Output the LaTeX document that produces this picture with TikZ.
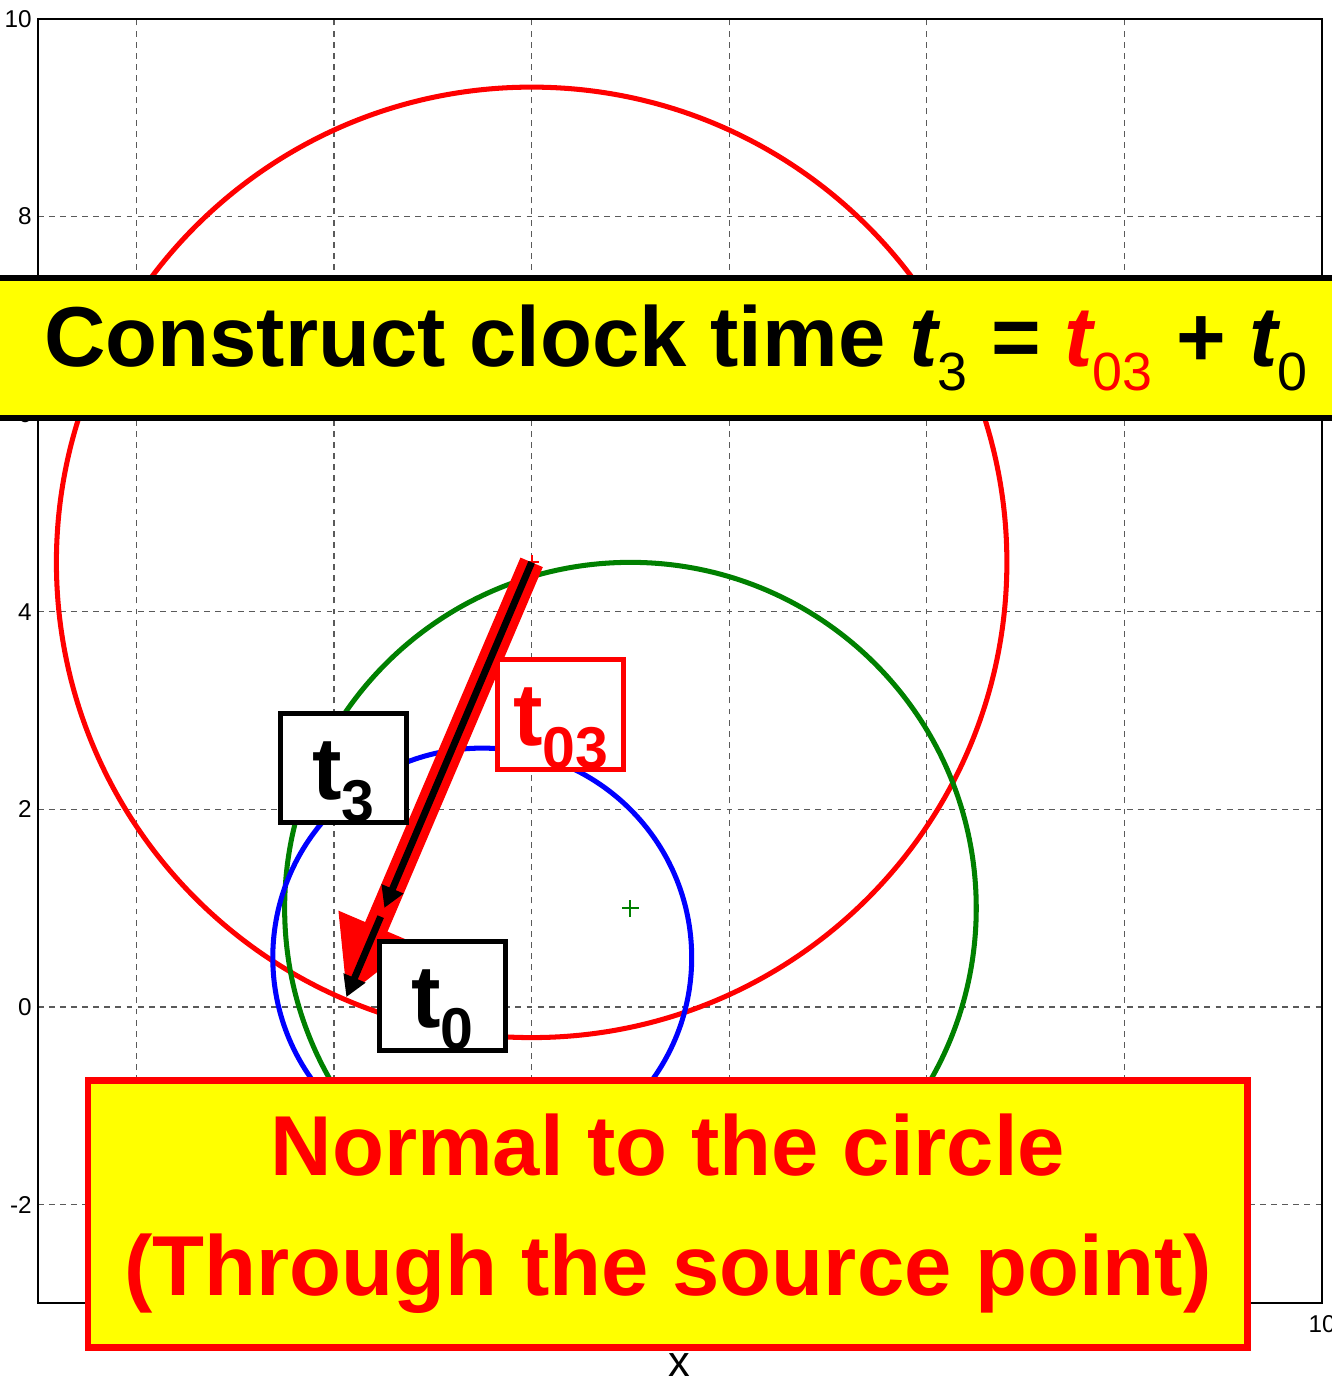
\documentclass[tikz,border=0pt]{standalone}
\usepackage{fontspec}
\setmainfont{Liberation Sans}
\usepackage{tikz}
\usepackage{xcolor}
\usetikzlibrary{arrows.meta, calc}
\definecolor{cRed}{RGB}{255,0,0}
\definecolor{cGreen}{RGB}{0,128,0}
\definecolor{cBlue}{RGB}{0,0,255}
\definecolor{cYellow}{RGB}{255,255,0}
\definecolor{cGrid}{RGB}{90,90,90}
\newcommand{\clkT}[1]{{\itshape t}\raisebox{-7pt}{\fontsize{15.5}{15.5}\selectfont\mdseries #1}}
\newcommand{\clkB}[1]{t\raisebox{-6.5pt}{\fontsize{17}{17}\selectfont #1}}
\tikzset{
	gridline/.style ={cGrid, dash pattern=on 1.7pt off 1.5pt, line width=0.35pt},
	ticklbl/.style  ={font=\fontsize{7}{7}\selectfont, inner sep=1.5pt},
	curve/.style    ={line width=1.45pt},
	ctrplus/.style  ={line width=0.6pt},
	% labels and notes
	lblbox/.style   ={rectangle, draw=black, line width=1.45pt, fill=white, minimum width=1.27cm, minimum height=1.11cm, inner sep=0pt, text height=18pt, text depth=0pt, font=\fontsize{25.5}{25.5}\selectfont\bfseries},
	banner/.style   ={rectangle, draw=black, line width=1.7pt, fill=cYellow, minimum width=16cm, minimum height=1.42cm, inner sep=0pt, font=\fontsize{24.5}{24.5}\selectfont\bfseries},
	notebox/.style  ={rectangle, draw=cRed, line width=2pt, fill=cYellow, text=cRed, minimum width=11.74cm, minimum height=2.71cm, align=center, inner sep=0pt, font=\fontsize{24.5}{34.5}\selectfont\bfseries},
	% normal vectors
	redarrow/.style ={cRed, line width=7pt, -{Triangle[length=22pt,width=22pt]}},
	blkarrow/.style ={black, line width=2pt, -{Triangle[length=6pt,width=6.5pt]}},
}

\begin{document}
\begin{tikzpicture}[x=1cm, y=1cm]
	\useasboundingbox (-3.381,-3.806) rectangle (10.091,10.192);
	\foreach \g in {-2,0,...,8} {
		\draw[gridline] (\g,-3) -- (\g,10);
		\draw[gridline] (-3,\g) -- (10,\g);
	}
	\draw[line width=0.6pt] (-3,-3) rectangle (10,10);
	\foreach \v in {-2,0,...,10}
		\node[ticklbl, anchor=east] (ytick\v) at (-3,\v) {\v};
	\node[ticklbl, anchor=north] (xtick10) at (10,-3.06) {10};
	\node[font=\fontsize{12.5}{12.5}\selectfont] (xlbl) at (3.49,-3.62) {x};

	\draw[curve, cRed] (2,4.5) circle (4.81);
	\draw[curve, cGreen] (3,1) circle (3.5);
	\draw[curve, cBlue] (1.5,0.5) circle (2.12);
	\draw[ctrplus, cGreen] (3,1) +(-0.085,0) -- +(0.085,0) +(0,-0.085) -- +(0,0.085);
	\draw[ctrplus, cRed] (2,4.5) +(-0.07,0) -- +(0.07,0) +(0,-0.07) -- +(0,0.07);

	\coordinate (src) at (2,4.5);
	\coordinate (tip) at (0.125,0.10);
	\draw[redarrow] (src) -- (tip);
	\draw[blkarrow] (src) -- ($(src)!0.795!(tip)$);
	\draw[blkarrow] ($(src)!0.815!(tip)$) -- (tip);

	\node[lblbox] (tthree) at (0.096,2.419) {\clkB{3}};
	\node[lblbox, draw=cRed, text=cRed] (tzerothree) at (2.293,2.960) {\clkB{03}};
	\node[lblbox] (tzero) at (1.098,0.111) {\clkB{0}};

	\node[banner] (title) at (3.46,6.67) {Construct clock time \clkT{3} = {\color{cRed}\clkT{03}} + \clkT{0}};
	\node[notebox] (note) at (3.38,-2.095) {Normal to the circle\\(Through the source point)};
\end{tikzpicture}
\end{document}
